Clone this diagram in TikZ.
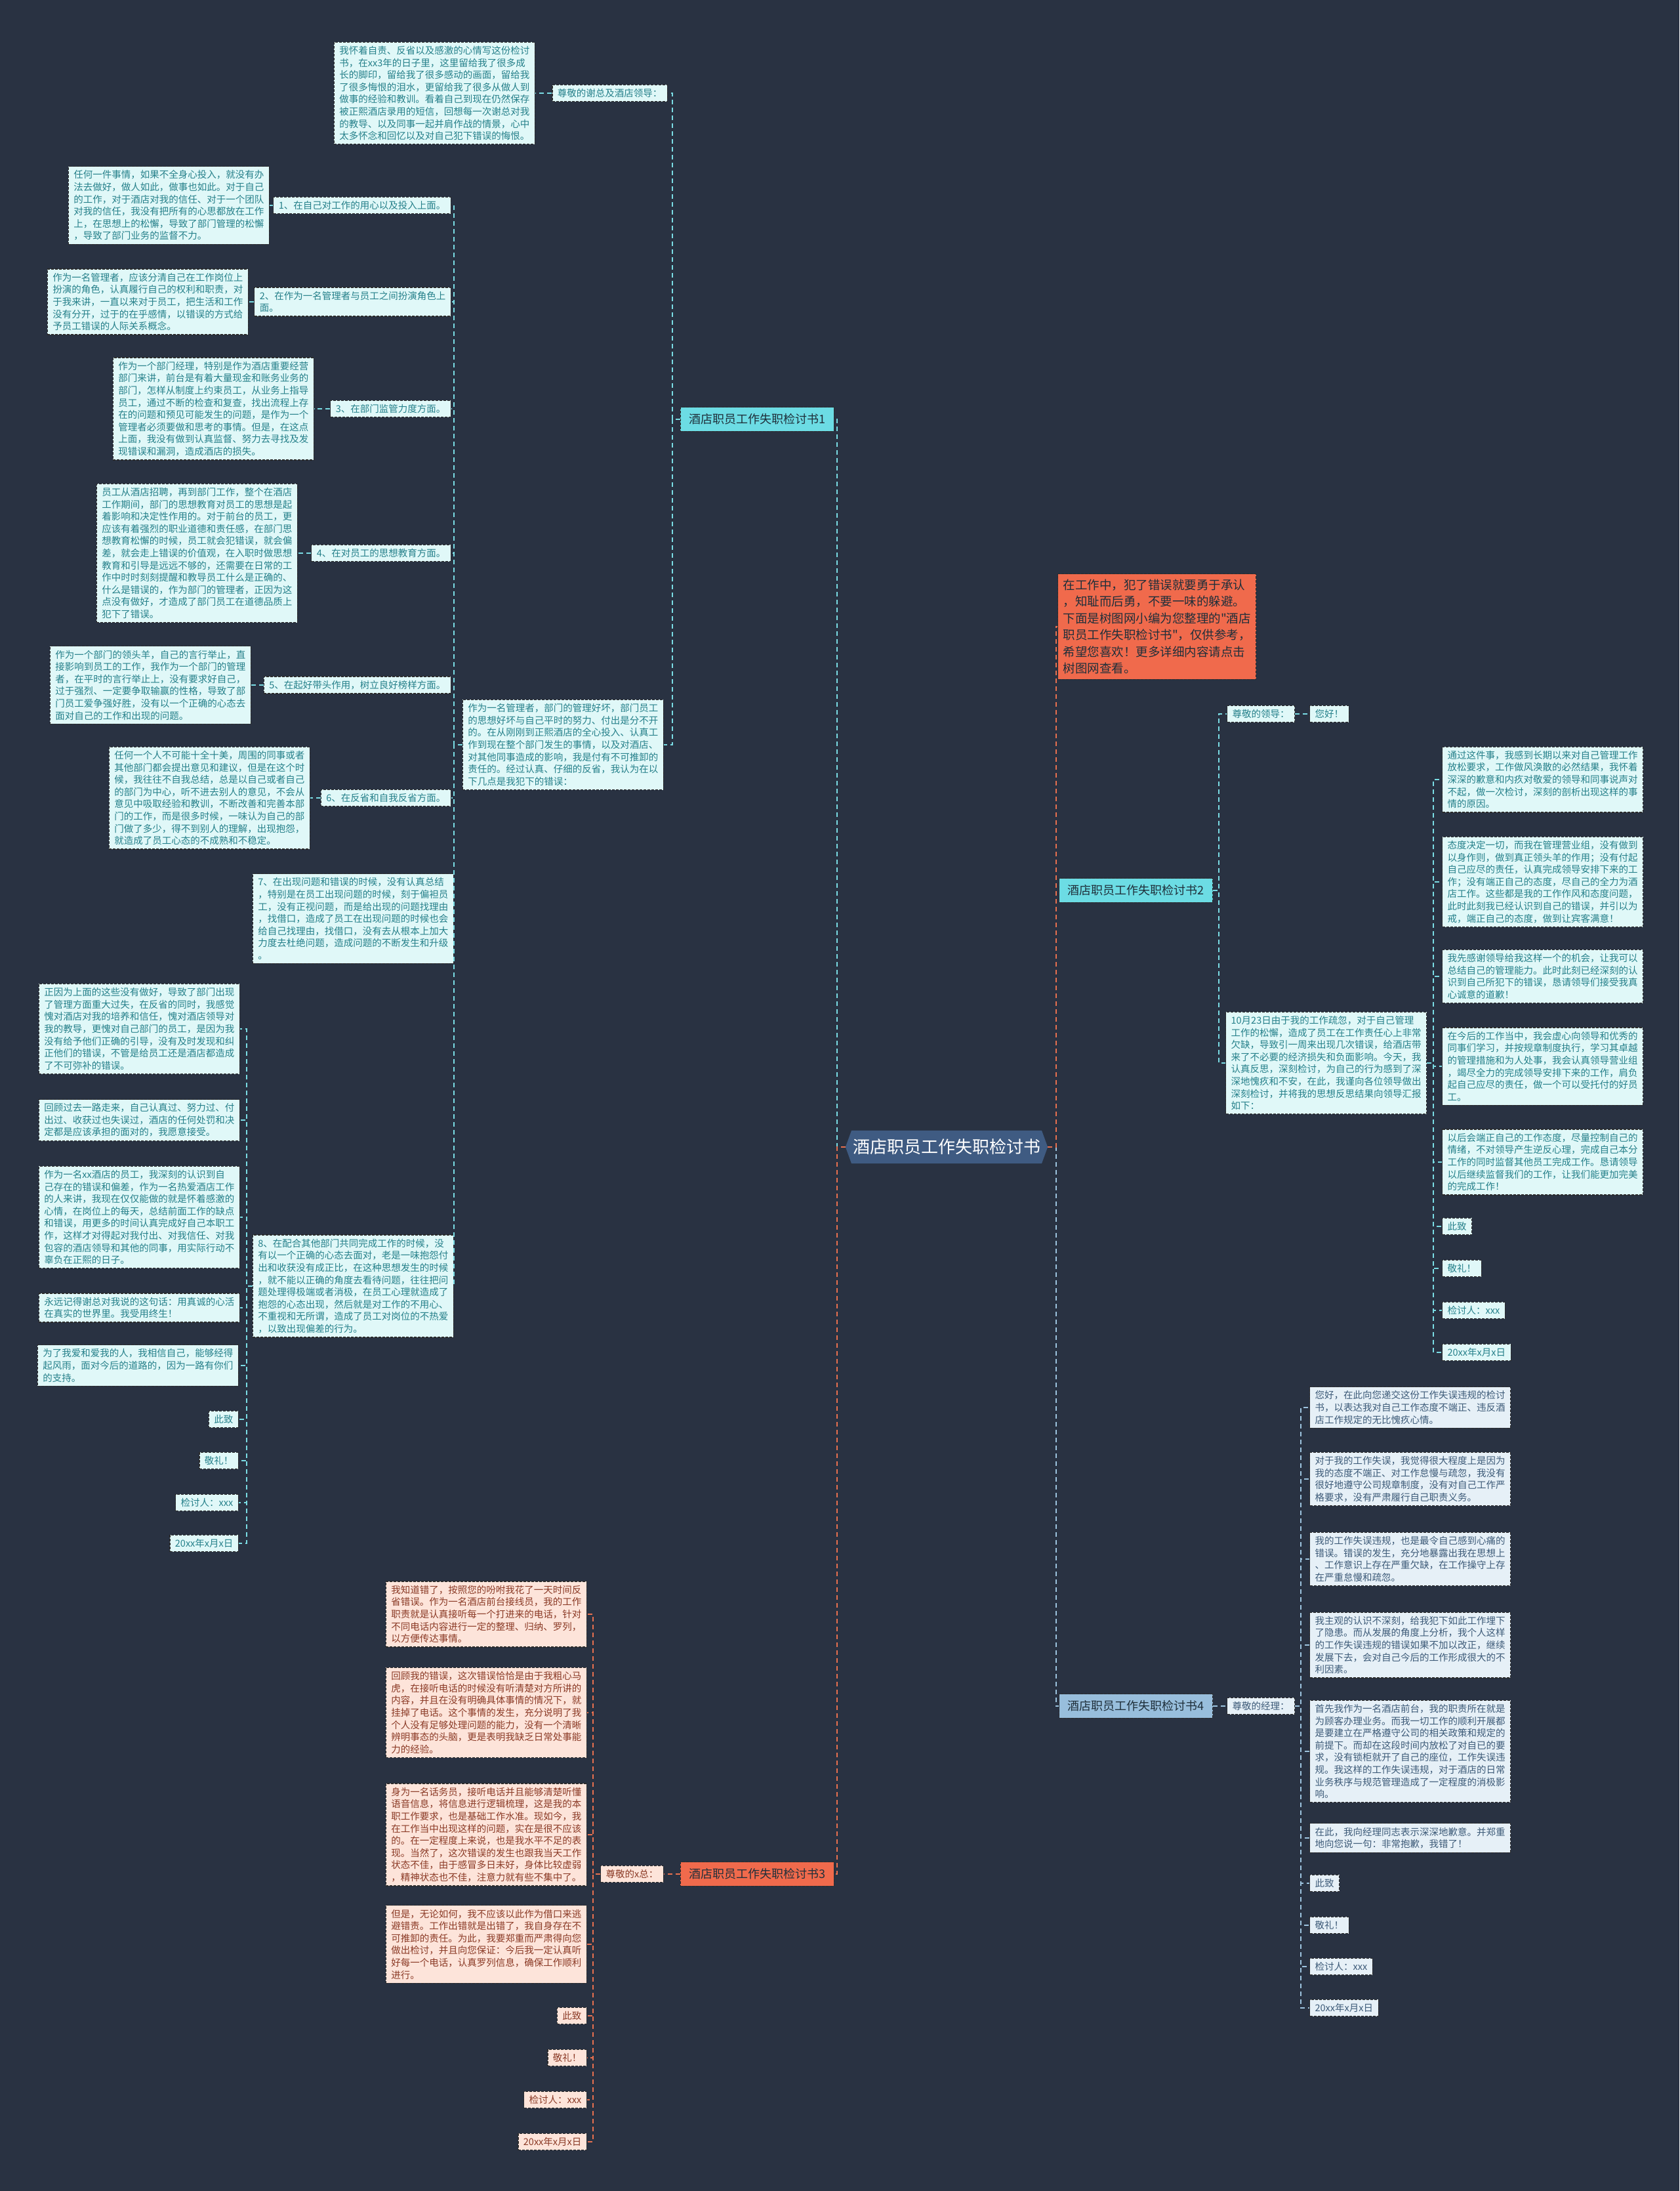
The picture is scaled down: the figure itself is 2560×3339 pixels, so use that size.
\documentclass[tikz,border=0pt]{standalone}
\usepackage{fontspec}
\newfontfamily\cjk{Noto Sans CJK SC}
\usetikzlibrary{shapes.symbols}
\definecolor{bgc}{HTML}{293242}
\definecolor{lfill}{HTML}{E0F8F8}
\definecolor{ltext}{HTML}{25808A}
\definecolor{pfill}{HTML}{FDE4DA}
\definecolor{ptext}{HTML}{8B3A26}
\definecolor{bfill}{HTML}{E6F0F7}
\definecolor{btext}{HTML}{3C5A78}
\definecolor{edge}{HTML}{2B2B2B}
\definecolor{cyanf}{HTML}{6CDCE4}
\definecolor{orgf}{HTML}{F06A4C}
\definecolor{bluef}{HTML}{98BEDC}
\definecolor{darkt}{HTML}{1F2F3A}
\definecolor{centf}{HTML}{3F5B82}
\definecolor{lcyan}{HTML}{7ADCE4}
\definecolor{lorg}{HTML}{E8704F}
\definecolor{lblue}{HTML}{9DC4DF}
\begin{document}
\begin{tikzpicture}[x=1pt,y=-1pt,
 box/.style={draw=edge, dash pattern=on 4pt off 2pt, line width=1.2pt, fill=lfill, text=ltext, align=left, inner xsep=8pt, inner ysep=6pt, font=\cjk\fontsize{14.5}{18.6}\selectfont},
 pbox/.style={box, fill=pfill, text=ptext},
 bbox/.style={box, fill=bfill, text=btext},
 branch/.style={draw=edge, dash pattern=on 4pt off 2pt, line width=1.2pt, text=darkt, inner xsep=13pt, inner ysep=10pt, font=\cjk\fontsize{18}{22}\selectfont},
 centre/.style={signal, signal to=west and east, signal pointer angle=140, fill=centf, text=white, inner xsep=2pt, inner ysep=13pt, font=\cjk\fontsize{26}{30}\selectfont},
 lc/.style={draw=lcyan, line width=2pt, dash pattern=on 7pt off 5pt},
 lo/.style={lc, draw=lorg},
 lb/.style={lc, draw=lblue}]
\fill[bgc] (0,0) rectangle (2560,3339);
\useasboundingbox (0,0) rectangle (2560,3339);

% ---------- centre ----------
\node[centre] (C) at (1443,1748) {酒店职员工作失职检讨书};

% ---------- branch 1 ----------
\node[branch, fill=cyanf, anchor=east] (B1) at (1272,639) {酒店职员工作失职检讨书1};
\node[box, anchor=east] (T) at (816,142) {我怀着自责、反省以及感激的心情写这份检讨\\书，在xx3年的日子里，这里留给我了很多成\\长的脚印，留给我了很多感动的画面，留给我\\了很多悔恨的泪水，更留给我了很多从做人到\\做事的经验和教训。看着自己到现在仍然保存\\被正熙酒店录用的短信，回想每一次谢总对我\\的教导、以及同事一起并肩作战的情景，心中\\太多怀念和回忆以及对自己犯下错误的悔恨。};
\node[box, anchor=east] (L0) at (1018,142) {尊敬的谢总及酒店领导：};
\node[box, anchor=east] (M) at (1012,1135) {作为一名管理者，部门的管理好坏，部门员工\\的思想好坏与自己平时的努力、付出是分不开\\的。在从刚刚到正熙酒店的全心投入、认真工\\作到现在整个部门发生的事情，以及对酒店、\\对其他同事造成的影响，我是付有不可推卸的\\责任的。经过认真、仔细的反省，我认为在以\\下几点是我犯下的错误：};

\node[box, anchor=east] (I1) at (688,313) {1、在自己对工作的用心以及投入上面。};
\node[box, anchor=east] (D1) at (411,313) {任何一件事情，如果不全身心投入，就没有办\\法去做好，做人如此，做事也如此。对于自己\\的工作，对于酒店对我的信任、对于一个团队\\对我的信任，我没有把所有的心思都放在工作\\上，在思想上的松懈，导致了部门管理的松懈\\，导致了部门业务的监督不力。};
\node[box, anchor=east] (I2) at (688,460) {2、在作为一名管理者与员工之间扮演角色上\\面。};
\node[box, anchor=east] (D2) at (379,460) {作为一名管理者，应该分清自己在工作岗位上\\扮演的角色，认真履行自己的权利和职责，对\\于我来讲，一直以来对于员工，把生活和工作\\没有分开，过于的在乎感情，以错误的方式给\\予员工错误的人际关系概念。};
\node[box, anchor=east] (I3) at (688,623) {3、在部门监管力度方面。};
\node[box, anchor=east] (D3) at (479,623) {作为一个部门经理，特别是作为酒店重要经营\\部门来讲，前台是有着大量现金和账务业务的\\部门，怎样从制度上约束员工，从业务上指导\\员工，通过不断的检查和复查，找出流程上存\\在的问题和预见可能发生的问题，是作为一个\\管理者必须要做和思考的事情。但是，在这点\\上面，我没有做到认真监督、努力去寻找及发\\现错误和漏洞，造成酒店的损失。};
\node[box, anchor=east] (I4) at (688,843) {4、在对员工的思想教育方面。};
\node[box, anchor=east] (D4) at (454,843) {员工从酒店招聘，再到部门工作，整个在酒店\\工作期间，部门的思想教育对员工的思想是起\\着影响和决定性作用的。对于前台的员工，更\\应该有着强烈的职业道德和责任感，在部门思\\想教育松懈的时候，员工就会犯错误，就会偏\\差，就会走上错误的价值观，在入职时做思想\\教育和引导是远远不够的，还需要在日常的工\\作中时时刻刻提醒和教导员工什么是正确的、\\什么是错误的，作为部门的管理者，正因为这\\点没有做好，才造成了部门员工在道德品质上\\犯下了错误。};
\node[box, anchor=east] (I5) at (688,1044) {5、在起好带头作用，树立良好榜样方面。};
\node[box, anchor=east] (D5) at (383,1044) {作为一个部门的领头羊，自己的言行举止，直\\接影响到员工的工作，我作为一个部门的管理\\者，在平时的言行举止上，没有要求好自己，\\过于强烈、一定要争取输赢的性格，导致了部\\门员工爱争强好胜，没有以一个正确的心态去\\面对自己的工作和出现的问题。};
\node[box, anchor=east] (I6) at (688,1216) {6、在反省和自我反省方面。};
\node[box, anchor=east] (D6) at (473,1216) {任何一个人不可能十全十美，周围的同事或者\\其他部门都会提出意见和建议，但是在这个时\\候，我往往不自我总结，总是以自己或者自己\\的部门为中心，听不进去别人的意见，不会从\\意见中吸取经验和教训，不断改善和完善本部\\门的工作，而是很多时候，一味认为自己的部\\门做了多少，得不到别人的理解，出现抱怨，\\就造成了员工心态的不成熟和不稳定。};
\node[box, anchor=east] (I7) at (692,1400) {7、在出现问题和错误的时候，没有认真总结\\，特别是在员工出现问题的时候，刻于偏袒员\\工，没有正视问题，而是给出现的问题找理由\\，找借口，造成了员工在出现问题的时候也会\\给自己找理由，找借口，没有去从根本上加大\\力度去杜绝问题，造成问题的不断发生和升级\\。};
\node[box, anchor=east] (I8) at (692,1960) {8、在配合其他部门共同完成工作的时候，没\\有以一个正确的心态去面对，老是一味抱怨付\\出和收获没有成正比，在这种思想发生的时候\\，就不能以正确的角度去看待问题，往往把问\\题处理得极端或者消极，在员工心理就造成了\\抱怨的心态出现，然后就是对工作的不用心、\\不重视和无所谓，造成了员工对岗位的不热爱\\，以致出现偏差的行为。};

\node[box, anchor=east] (La) at (366,1568) {正因为上面的这些没有做好，导致了部门出现\\了管理方面重大过失，在反省的同时，我感觉\\愧对酒店对我的培养和信任，愧对酒店领导对\\我的教导，更愧对自己部门的员工，是因为我\\没有给予他们正确的引导，没有及时发现和纠\\正他们的错误，不管是给员工还是酒店都造成\\了不可弥补的错误。};
\node[box, anchor=east] (Lb) at (366,1707) {回顾过去一路走来，自己认真过、努力过、付\\出过、收获过也失误过，酒店的任何处罚和决\\定都是应该承担的面对的，我愿意接受。};
\node[box, anchor=east] (Lc) at (366,1855) {作为一名xx酒店的员工，我深刻的认识到自\\己存在的错误和偏差，作为一名热爱酒店工作\\的人来讲，我现在仅仅能做的就是怀着感激的\\心情，在岗位上的每天，总结前面工作的缺点\\和错误，用更多的时间认真完成好自己本职工\\作，这样才对得起对我付出、对我信任、对我\\包容的酒店领导和其他的同事，用实际行动不\\辜负在正熙的日子。};
\node[box, anchor=east] (Ld) at (366,1993) {永远记得谢总对我说的这句话：用真诚的心活\\在真实的世界里。我受用终生！};
\node[box, anchor=east] (Le) at (364,2081) {为了我爱和爱我的人，我相信自己，能够经得\\起风雨，面对今后的道路的，因为一路有你们\\的支持。};
\node[box, anchor=east] (Lf) at (364,2163) {此致};
\node[box, anchor=east] (Lg) at (364,2226) {敬礼！};
\node[box, anchor=east] (Lh) at (364,2290) {检讨人：xxx};
\node[box, anchor=east] (Li) at (364,2352) {20xx年x月x日};

% ---------- branch 3 ----------
\node[branch, fill=orgf, anchor=east] (B3) at (1272,2856) {酒店职员工作失职检讨书3};
\node[pbox, anchor=east] (L3) at (1012,2856) {尊敬的x总：};
\node[pbox, anchor=east] (Pa) at (895,2460) {我知道错了，按照您的吩咐我花了一天时间反\\省错误。作为一名酒店前台接线员，我的工作\\职责就是认真接听每一个打进来的电话，针对\\不同电话内容进行一定的整理、归纳、罗列，\\以方便传达事情。};
\node[pbox, anchor=east] (Pb) at (895,2610) {回顾我的错误，这次错误恰恰是由于我粗心马\\虎，在接听电话的时候没有听清楚对方所讲的\\内容，并且在没有明确具体事情的情况下，就\\挂掉了电话。这个事情的发生，充分说明了我\\个人没有足够处理问题的能力，没有一个清晰\\辨明事态的头脑，更是表明我缺乏日常处事能\\力的经验。};
\node[pbox, anchor=east] (Pc) at (895,2796) {身为一名话务员，接听电话并且能够清楚听懂\\语音信息，将信息进行逻辑梳理，这是我的本\\职工作要求，也是基础工作水准。现如今，我\\在工作当中出现这样的问题，实在是很不应该\\的。在一定程度上来说，也是我水平不足的表\\现。当然了，这次错误的发生也跟我当天工作\\状态不佳，由于感冒多日未好，身体比较虚弱\\，精神状态也不佳，注意力就有些不集中了。};
\node[pbox, anchor=east] (Pd) at (895,2963) {但是，无论如何，我不应该以此作为借口来逃\\避错责。工作出错就是出错了，我自身存在不\\可推卸的责任。为此，我要郑重而严肃得向您\\做出检讨，并且向您保证：今后我一定认真听\\好每一个电话，认真罗列信息，确保工作顺利\\进行。};
\node[pbox, anchor=east] (Pe) at (895,3072) {此致};
\node[pbox, anchor=east] (Pf) at (895,3136) {敬礼！};
\node[pbox, anchor=east] (Pg) at (895,3200) {检讨人：xxx};
\node[pbox, anchor=east] (Ph) at (895,3264) {20xx年x月x日};

% ---------- intro (red) ----------
\node[branch, fill=orgf, anchor=west, align=left, inner xsep=8pt, inner ysep=8pt, font=\cjk\fontsize{18.5}{25.5}\selectfont] (R) at (1612,955) {在工作中，犯了错误就要勇于承认\\，知耻而后勇，不要一味的躲避。\\下面是树图网小编为您整理的"酒店\\职员工作失职检讨书"，仅供参考，\\希望您喜欢！更多详细内容请点击\\树图网查看。};

% ---------- branch 2 ----------
\node[branch, fill=cyanf, anchor=west] (B2) at (1614,1357) {酒店职员工作失职检讨书2};
\node[box, anchor=west] (L2) at (1870,1088) {尊敬的领导：};
\node[box, anchor=west] (N2) at (1996,1088) {您好！};
\node[box, anchor=west] (P) at (1868,1620) {10月23日由于我的工作疏忽，对于自己管理\\工作的松懈，造成了员工在工作责任心上非常\\欠缺，导致引一周来出现几次错误，给酒店带\\来了不必要的经济损失和负面影响。今天，我\\认真反思，深刻检讨，为自己的行为感到了深\\深地愧疚和不安，在此，我谨向各位领导做出\\深刻检讨，并将我的思想反思结果向领导汇报\\如下：};
\node[box, anchor=west] (Qa) at (2198,1188) {通过这件事，我感到长期以来对自己管理工作\\放松要求，工作做风涣散的必然结果，我怀着\\深深的歉意和内疚对敬爱的领导和同事说声对\\不起，做一次检讨，深刻的剖析出现这样的事\\情的原因。};
\node[box, anchor=west] (Qb) at (2198,1344) {态度决定一切，而我在管理营业组，没有做到\\以身作则，做到真正领头羊的作用；没有付起\\自己应尽的责任，认真完成领导安排下来的工\\作；没有端正自己的态度，尽自己的全力为酒\\店工作。这些都是我的工作作风和态度问题，\\此时此刻我已经认识到自己的错误，并引以为\\戒，端正自己的态度，做到让宾客满意！};
\node[box, anchor=west] (Qc) at (2198,1488) {我先感谢领导给我这样一个的机会，让我可以\\总结自己的管理能力。此时此刻已经深刻的认\\识到自己所犯下的错误，恳请领导们接受我真\\心诚意的道歉！};
\node[box, anchor=west] (Qd) at (2198,1625) {在今后的工作当中，我会虚心向领导和优秀的\\同事们学习，并按规章制度执行，学习其卓越\\的管理措施和为人处事，我会认真领导营业组\\，竭尽全力的完成领导安排下来的工作，肩负\\起自己应尽的责任，做一个可以受托付的好员\\工。};
\node[box, anchor=west] (Qe) at (2198,1771) {以后会端正自己的工作态度，尽量控制自己的\\情绪，不对领导产生逆反心理，完成自己本分\\工作的同时监督其他员工完成工作。恳请领导\\以后继续监督我们的工作，让我们能更加完美\\的完成工作！};
\node[box, anchor=west] (Qf) at (2198,1869) {此致};
\node[box, anchor=west] (Qg) at (2198,1933) {敬礼！};
\node[box, anchor=west] (Qh) at (2198,1997) {检讨人：xxx};
\node[box, anchor=west] (Qi) at (2198,2061) {20xx年x月x日};

% ---------- branch 4 ----------
\node[branch, fill=bluef, anchor=west] (B4) at (1614,2600) {酒店职员工作失职检讨书4};
\node[bbox, anchor=west] (L4) at (1870,2600) {尊敬的经理：};
\node[bbox, anchor=west] (Sa) at (1996,2145) {您好，在此向您递交这份工作失误违规的检讨\\书，以表达我对自己工作态度不端正、违反酒\\店工作规定的无比愧疚心情。};
\node[bbox, anchor=west] (Sb) at (1996,2254) {对于我的工作失误，我觉得很大程度上是因为\\我的态度不端正、对工作怠慢与疏忽，我没有\\很好地遵守公司规章制度，没有对自己工作严\\格要求，没有严肃履行自己职责义务。};
\node[bbox, anchor=west] (Sc) at (1996,2376) {我的工作失误违规，也是最令自己感到心痛的\\错误。错误的发生，充分地暴露出我在思想上\\、工作意识上存在严重欠缺，在工作操守上存\\在严重怠慢和疏忽。};
\node[bbox, anchor=west] (Sd) at (1996,2507) {我主观的认识不深刻，给我犯下如此工作埋下\\了隐患。而从发展的角度上分析，我个人这样\\的工作失误违规的错误如果不加以改正，继续\\发展下去，会对自己今后的工作形成很大的不\\利因素。};
\node[bbox, anchor=west] (Se) at (1996,2669) {首先我作为一名酒店前台，我的职责所在就是\\为顾客办理业务。而我一切工作的顺利开展都\\是要建立在严格遵守公司的相关政策和规定的\\前提下。而却在这段时间内放松了对自已的要\\求，没有锁柜就开了自己的座位，工作失误违\\规。我这样的工作失误违规，对于酒店的日常\\业务秩序与规范管理造成了一定程度的消极影\\响。};
\node[bbox, anchor=west] (Sf) at (1996,2801) {在此，我向经理同志表示深深地歉意。并郑重\\地向您说一句：非常抱歉，我错了！};
\node[bbox, anchor=west] (Sg) at (1996,2870) {此致};
\node[bbox, anchor=west] (Sh) at (1996,2934) {敬礼！};
\node[bbox, anchor=west] (Si) at (1996,2997) {检讨人：xxx};
\node[bbox, anchor=west] (Sj) at (1996,3060) {20xx年x月x日};

% ---------- connectors ----------
\draw[lc] (C.west) -- ++(-13,0) |- (B1.east);
\draw[lo] (C.west) -- ++(-13,0) |- (B3.east);
\draw[lb] (C.east) -- ++(13,0) |- (B4.west);
\draw[lc] (C.east) -- ++(13,0) |- (B2.west);
\draw[lo] (C.east) -- ++(13,0) |- (R.west);

\draw[lc] (B1.west) -- ++(-12,0) |- (L0.east);
\draw[lc] (B1.west) -- ++(-12,0) |- (M.east);
\draw[lc] (L0.west) -- (T.east);
\foreach \n in {I1,I2,I3,I4,I5,I6,I7,I8} \draw[lc] (M.west) -- ++(-13,0) |- (\n.east);
\draw[lc] (I1.west) -- (D1.east);
\draw[lc] (I2.west) -- (D2.east);
\draw[lc] (I3.west) -- (D3.east);
\draw[lc] (I4.west) -- (D4.east);
\draw[lc] (I5.west) -- (D5.east);
\draw[lc] (I6.west) -- (D6.east);
\foreach \n in {La,Lb,Lc,Ld,Le,Lf,Lg,Lh,Li} \draw[lc] (I8.west) -- ++(-9,0) |- (\n.east);

\draw[lo] (B3.west) -- (L3.east);
\foreach \n in {Pa,Pb,Pc,Pd,Pe,Pf,Pg,Ph} \draw[lo] (L3.west) -- ++(-11,0) |- (\n.east);

\draw[lc] (B2.east) -- ++(9,0) |- (L2.west);
\draw[lc] (B2.east) -- ++(9,0) |- (P.west);
\draw[lc] (L2.east) -- (N2.west);
\foreach \n in {Qa,Qb,Qc,Qd,Qe,Qf,Qg,Qh,Qi} \draw[lc] (P.east) -- ++(10,0) |- (\n.west);

\draw[lb] (B4.east) -- (L4.west);
\foreach \n in {Sa,Sb,Sc,Sd,Se,Sf,Sg,Sh,Si,Sj} \draw[lb] (L4.east) -- ++(9,0) |- (\n.west);
\end{tikzpicture}
\end{document}
